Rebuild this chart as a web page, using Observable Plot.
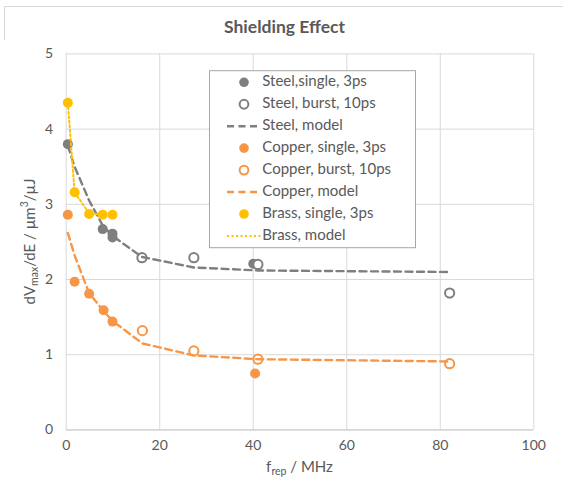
<!DOCTYPE html>
<html>
<head>
<meta charset="utf-8">
<script src="https://cdn.jsdelivr.net/npm/d3@7"></script>
<script src="https://cdn.jsdelivr.net/npm/@observablehq/plot@0.6"></script>
<style>
  html, body { margin: 0; padding: 0; background: #fff; }
  #wrap { position: relative; width: 563px; height: 490px; overflow: hidden; font-family: Lato, "Open Sans", sans-serif; }
  #border { position: absolute; left: 4px; top: 6px; width: 600px; height: 600px; border-left: 1px solid #d9d9d9; border-top: 1px solid #d9d9d9; }
  #title { position: absolute; top: 16px; left: 0; width: 569px; text-align: center; font-size: 17.5px; font-weight: bold; color: #595959; }
  #chart { position: absolute; left: 0; top: 40px; }
</style>
</head>
<body>
<div id="wrap">
  <div id="border"></div>
  <div id="title">Shielding Effect</div>
  <div id="chart"></div>
</div>
<script>
// ---- data ----
const steelSingleX = [0.35, 7.8, 9.9, 9.9, 40.0];
const steelSingleY = [3.80, 2.67, 2.61, 2.56, 2.21];
const steelBurstX = [16.2, 27.3, 41.0, 82.0];
const steelBurstY = [2.29, 2.29, 2.20, 1.82];
const steelModelX = [0.35, 1.8, 4.9, 7.8, 9.9, 16.2, 27.3, 41.0, 82.0];
const steelModelY = [3.78, 3.50, 3.05, 2.72, 2.58, 2.30, 2.16, 2.12, 2.10];

const copperSingleX = [0.35, 1.8, 4.9, 8.0, 9.9, 40.4];
const copperSingleY = [2.86, 1.97, 1.81, 1.59, 1.44, 0.75];
const copperBurstX = [16.3, 27.3, 41.0, 82.0];
const copperBurstY = [1.32, 1.05, 0.94, 0.88];
const copperModelX = [0.35, 1.8, 4.9, 8.0, 9.9, 16.3, 27.3, 41.0, 82.0];
const copperModelY = [2.62, 2.32, 1.82, 1.58, 1.45, 1.15, 0.99, 0.94, 0.91];

const brassSingleX = [0.35, 1.8, 4.9, 7.8, 9.9];
const brassSingleY = [4.35, 3.16, 2.87, 2.86, 2.86];
const brassModelX = [0.35, 1.8, 4.9, 7.8];
const brassModelY = [4.35, 3.16, 2.88, 2.86];

const xTicks = [0, 20, 40, 60, 80, 100];
const yTicks = [0, 1, 2, 3, 4, 5];

const legendLabels = ["Steel,single, 3ps", "Steel, burst, 10ps", "Steel, model",
  "Copper, single, 3ps", "Copper, burst, 10ps", "Copper, model",
  "Brass, single, 3ps", "Brass, model"];

const GRAY = "#7f7f7f", ORANGE = "#f79646", GOLD = "#ffc000";

const zip = (xs, ys) => xs.map((x, i) => ({x, y: ys[i]}));

const W = 563, H = 450;
const plot = Plot.plot({
  width: W, height: H,
  marginLeft: 65.7, marginRight: 29.7, marginTop: 13.4, marginBottom: 60.6,
  style: {fontFamily: "Lato, 'Open Sans', sans-serif", fontSize: "14px", color: "#595959", background: "white"},
  x: {domain: [0, 100], ticks: xTicks},
  y: {domain: [0, 5], ticks: yTicks},
  marks: [
    Plot.gridX(xTicks, {stroke: "#d9d9d9", strokeOpacity: 1}),
    Plot.gridY(yTicks, {stroke: "#d9d9d9", strokeOpacity: 1}),
    Plot.ruleY([0], {stroke: "#d0d0d0", strokeWidth: 1.2}),
    Plot.axisX({ticks: xTicks, tickSize: 0, tickPadding: 10, label: null, fill: "#595959", fontSize: 14, tickFormat: d3.format("d")}),
    Plot.axisY({ticks: yTicks, tickSize: 0, tickPadding: 13, label: null, fill: "#595959", fontSize: 14, tickFormat: d3.format("d")}),
    Plot.dot(zip(steelSingleX, steelSingleY), {x: "x", y: "y", r: 5, fill: GRAY}),
    Plot.dot(zip(steelBurstX, steelBurstY), {x: "x", y: "y", r: 4.6, fill: "white", stroke: GRAY, strokeWidth: 2}),
    Plot.line(zip(steelModelX, steelModelY), {x: "x", y: "y", stroke: GRAY, strokeWidth: 2.4, strokeDasharray: "7,4.5"}),
    Plot.dot(zip(copperSingleX, copperSingleY), {x: "x", y: "y", r: 5, fill: ORANGE}),
    Plot.dot(zip(copperBurstX, copperBurstY), {x: "x", y: "y", r: 4.6, fill: "white", stroke: ORANGE, strokeWidth: 2}),
    Plot.line(zip(copperModelX, copperModelY), {x: "x", y: "y", stroke: ORANGE, strokeWidth: 2.4, strokeDasharray: "7,4.5"}),
    Plot.dot(zip(brassSingleX, brassSingleY), {x: "x", y: "y", r: 5, fill: GOLD}),
    Plot.line(zip(brassModelX, brassModelY), {x: "x", y: "y", stroke: GOLD, strokeWidth: 2, strokeDasharray: "2,2.5"})
  ]
});
document.getElementById("chart").appendChild(plot);

// ---- axis titles with sub/superscripts and legend ----
const svg = d3.select(plot);
const txtColor = "#595959";
const FONT = "Lato, 'Open Sans', sans-serif";
const yl = svg.append("text")
  .attr("transform", `translate(31,${(13.4 + (H - 60.6)) / 2}) rotate(-90)`)
  .attr("text-anchor", "middle").attr("dominant-baseline", "middle")
  .attr("fill", txtColor).attr("font-size", 15).attr("font-family", FONT);
yl.append("tspan").text("dV");
yl.append("tspan").attr("font-size", 10.5).attr("dy", 4).text("max");
yl.append("tspan").attr("dy", -4).text("/dE / µm");
yl.append("tspan").attr("font-size", 10.5).attr("dy", -6).text("3");
yl.append("tspan").attr("dy", 6).text("/µJ");

const xl = svg.append("text")
  .attr("x", (65.7 + W - 29.7) / 2).attr("y", 428)
  .attr("text-anchor", "middle").attr("dominant-baseline", "middle")
  .attr("fill", txtColor).attr("font-size", 15).attr("font-family", FONT);
xl.append("tspan").text("f");
xl.append("tspan").attr("font-size", 10.5).attr("dy", 4).text("rep");
xl.append("tspan").attr("dy", -4).text(" / MHz");

// legend
const off = 40;
const lg = svg.append("g").attr("font-family", FONT).attr("font-size", 15).attr("text-anchor", "start");
lg.append("rect").attr("x", 209.5).attr("y", 70.7 - off).attr("width", 206).attr("height", 177)
  .attr("fill", "white").attr("stroke", "#a6a6a6").attr("stroke-width", 1);
const kinds = [
  {t: "fill", c: GRAY}, {t: "open", c: GRAY}, {t: "dash", c: GRAY},
  {t: "fill", c: ORANGE}, {t: "open", c: ORANGE}, {t: "dash", c: ORANGE},
  {t: "fill", c: GOLD}, {t: "dot", c: GOLD}
];
legendLabels.forEach((lab, i) => {
  const cy = 82.3 - off + i * 21.95;
  const k = kinds[i];
  if (k.t === "fill") lg.append("circle").attr("cx", 244).attr("cy", cy).attr("r", 4.8).attr("fill", k.c);
  else if (k.t === "open") lg.append("circle").attr("cx", 244).attr("cy", cy).attr("r", 4.4).attr("fill", "white").attr("stroke", k.c).attr("stroke-width", 2);
  else if (k.t === "dash") lg.append("line").attr("x1", 227).attr("x2", 261).attr("y1", cy).attr("y2", cy).attr("stroke", k.c).attr("stroke-width", 2.4).attr("stroke-dasharray", "7,4.5");
  else lg.append("line").attr("x1", 227).attr("x2", 261).attr("y1", cy).attr("y2", cy).attr("stroke", k.c).attr("stroke-width", 2).attr("stroke-dasharray", "2,2.5");
  lg.append("text").attr("x", 262.3).attr("y", cy).attr("text-anchor", "start").attr("dominant-baseline", "middle").attr("fill", txtColor).text(lab);
});
</script>
</body>
</html>
